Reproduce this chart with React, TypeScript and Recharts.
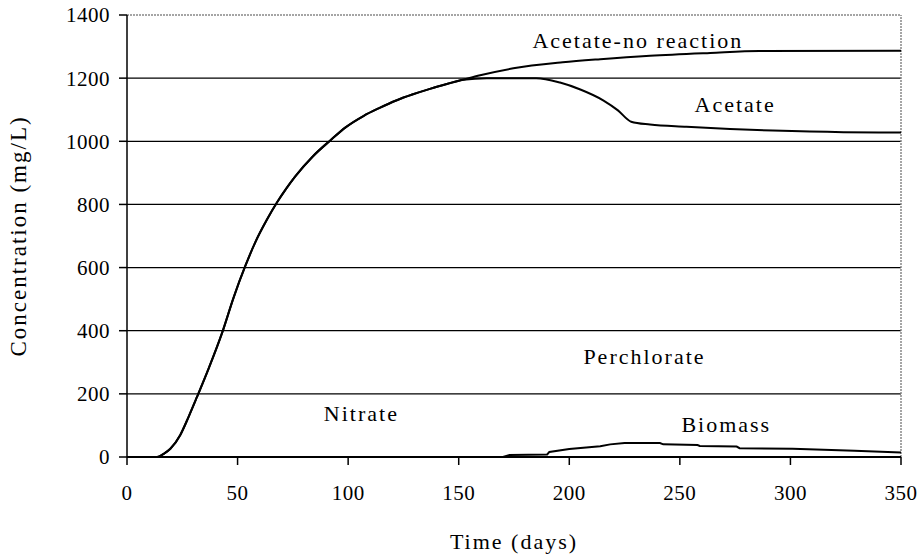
import React from 'react';
import { LineChart, Line, XAxis, YAxis, ReferenceLine, ReferenceDot } from 'recharts';

// shared rise of acetate (both runs overlap until ~day 152)
const riseDays = [0, 13.6, 16.6, 19.6, 24.1, 27.9, 31.7, 36.9, 43, 48.2, 53.5, 58, 63.3, 67.8, 72, 76, 84, 91.8, 99, 106.9, 114, 122, 129, 137, 145, 152];
const riseConc = [0, 0, 10, 26, 70, 128, 191, 280, 393, 505, 605, 680, 752, 806, 850, 888, 952, 1002, 1045, 1080, 1105, 1130, 1148, 1166, 1182, 1195];

const noRxnTailDays = [159.7, 174.7, 197, 214, 236.5, 263.7, 286, 350];
const noRxnTailConc = [1209, 1231, 1250, 1260, 1271, 1280, 1286, 1287];

const acetateTailDays = [162.7, 185, 195.8, 205, 215.5, 222, 228, 236.5, 253, 272.7, 292, 324, 350];
const acetateTailConc = [1200, 1200, 1186, 1164, 1129, 1098, 1062, 1053, 1046, 1039, 1034, 1029, 1028];

const biomassDays = [0, 170, 173, 190, 191, 200, 214, 218.5, 225, 241, 242.5, 258, 259, 275.7, 277, 301, 329, 350];
const biomassConc = [0, 0, 6, 8, 16, 25, 34, 40, 44, 44, 40, 38, 35, 33, 28, 26, 20, 14];

const nitrateDays = [0, 350];
const nitrateConc = [0, 0];
const perchlorateDays = [0, 350];
const perchlorateConc = [0, 0];

const xTicks = [0, 50, 100, 150, 200, 250, 300, 350];
const yTicks = [0, 200, 400, 600, 800, 1000, 1200, 1400];
const gridValues = [200, 400, 600, 800, 1000, 1200];

// annotation text and where it sits (data coords)
const labels = [
  { text: 'Acetate-no reaction', day: 231, conc: 1321 },
  { text: 'Acetate', day: 275, conc: 1118 },
  { text: 'Perchlorate', day: 234, conc: 320 },
  { text: 'Nitrate', day: 106, conc: 139 },
  { text: 'Biomass', day: 271, conc: 105 },
];

const zip = (days: number[], conc: number[]) => days.map((d, i) => ({ day: d, conc: conc[i] }));

const noRxnData = zip([...riseDays, ...noRxnTailDays], [...riseConc, ...noRxnTailConc]);
const acetateData = zip([...riseDays, ...acetateTailDays], [...riseConc, ...acetateTailConc]);
const biomassData = zip(biomassDays, biomassConc);
const nitrateData = zip(nitrateDays, nitrateConc);
const perchlorateData = zip(perchlorateDays, perchlorateConc);

const FONT = '"Liberation Serif", "Times New Roman", serif';
const tickStyle = { fontFamily: FONT, fontSize: 21, letterSpacing: 0.5, fill: '#000' };
const textStyle = { fontFamily: FONT, fontSize: 22, letterSpacing: 2, fill: '#000', textAnchor: 'middle' as const };
const yTitleStyle = { ...textStyle, fontSize: 23 };

const App: React.FC = () => {
  return (
    <div style={{ position: 'absolute', left: 0, top: 0, width: 922, height: 560, background: '#fff' }}>
      <LineChart width={922} height={560} margin={{ top: 15, right: 21, left: 0, bottom: 43 }}>
        <XAxis
          type="number"
          dataKey="day"
          domain={[0, 350]}
          ticks={xTicks}
          tickSize={8}
          tickMargin={20}
          height={60}
          tick={tickStyle}
          stroke="#000"
          strokeWidth={1.5}
          tickLine={{ stroke: '#000', strokeWidth: 1.5 }}
          label={{ value: 'Time (days)', position: 'bottom', offset: 16, style: textStyle }}
        />
        <YAxis
          type="number"
          dataKey="conc"
          domain={[0, 1400]}
          ticks={yTicks}
          width={127}
          tickSize={8}
          tickMargin={9}
          tick={tickStyle}
          stroke="#000"
          strokeWidth={1.5}
          tickLine={{ stroke: '#000', strokeWidth: 1.5 }}
          label={{ value: 'Concentration (mg/L)', angle: -90, position: 'insideLeft', offset: 18, style: yTitleStyle }}
        />
        {gridValues.map((v) => (
          <ReferenceLine key={v} y={v} stroke="#000" strokeWidth={1.2} />
        ))}
        <ReferenceLine y={1400} stroke="#888" strokeDasharray="2 1" strokeWidth={1.5} />
        <ReferenceLine x={350} stroke="#888" strokeDasharray="2 1" strokeWidth={1.5} />
        <Line data={nitrateData} dataKey="conc" type="linear" stroke="#000" strokeWidth={2} dot={false} isAnimationActive={false} />
        <Line data={perchlorateData} dataKey="conc" type="linear" stroke="#000" strokeWidth={2} dot={false} isAnimationActive={false} />
        <Line data={biomassData} dataKey="conc" type="linear" stroke="#000" strokeWidth={2} dot={false} isAnimationActive={false} />
        <Line data={noRxnData} dataKey="conc" type="monotone" stroke="#000" strokeWidth={2} dot={false} isAnimationActive={false} />
        <Line data={acetateData} dataKey="conc" type="monotone" stroke="#000" strokeWidth={2} dot={false} isAnimationActive={false} />
        {labels.map((l) => (
          <ReferenceDot
            key={l.text}
            x={l.day}
            y={l.conc}
            r={0}
            fill="none"
            stroke="none"
            label={{ value: l.text, position: 'center', style: textStyle }}
          />
        ))}
      </LineChart>
    </div>
  );
};

export default App;
